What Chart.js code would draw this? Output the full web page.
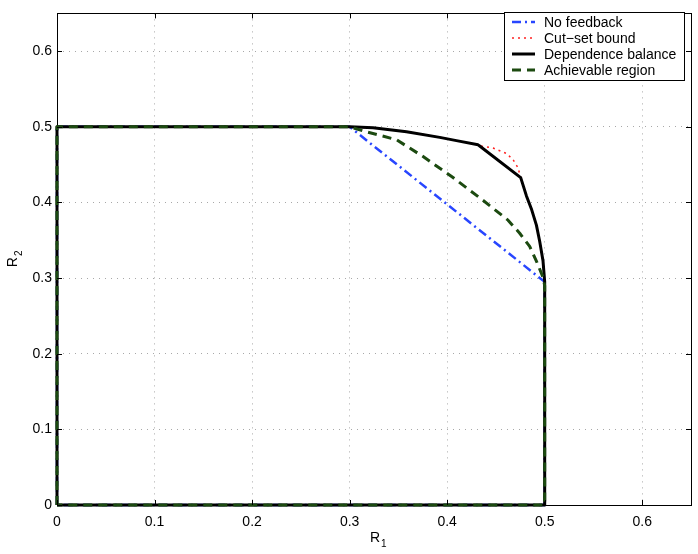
<!DOCTYPE html>
<html><head><meta charset="utf-8">
<script src="https://cdn.jsdelivr.net/npm/chart.js@4.4.1/dist/chart.umd.min.js"></script>
<style>html,body{margin:0;padding:0;background:#fff}#wrap{width:698px;height:554px}</style>
</head><body><div id="wrap"><canvas id="c" width="698" height="554"></canvas></div>
<script>
const tickValues = [0, 0.1, 0.2, 0.3, 0.4, 0.5, 0.6];
const tickLabels = ['0', '0.1', '0.2', '0.3', '0.4', '0.5', '0.6'];

const noFeedbackX = [0, 0, 0.3, 0.5, 0.5, 0];
const noFeedbackY = [0, 0.5, 0.5, 0.295, 0, 0];

const cutSetX = [0, 0, 0.3, 0.324, 0.3583, 0.3924, 0.4095, 0.4317, 0.433, 0.447, 0.4606, 0.4675, 0.4726, 0.4754, 0.4812, 0.4863, 0.4915, 0.4949, 0.4983, 0.5, 0.5, 0];
const cutSetY = [0, 0.5, 0.5, 0.4987, 0.4935, 0.4861, 0.4818, 0.4762, 0.475, 0.472, 0.465, 0.4567, 0.446, 0.4329, 0.409, 0.3918, 0.370, 0.3484, 0.3225, 0.295, 0, 0];

const depBalX = [0, 0, 0.3, 0.324, 0.3583, 0.3924, 0.4095, 0.4317, 0.433, 0.4754, 0.4812, 0.4863, 0.4915, 0.4949, 0.4983, 0.5, 0.5, 0];
const depBalY = [0, 0.5, 0.5, 0.4987, 0.4935, 0.4861, 0.4818, 0.4762, 0.475, 0.4329, 0.409, 0.3918, 0.370, 0.3484, 0.3225, 0.295, 0, 0];

const achX = [0, 0, 0.3, 0.317, 0.348, 0.375, 0.406, 0.437, 0.4624, 0.4744, 0.4846, 0.4915, 0.4983, 0.5, 0.5, 0];
const achY = [0, 0.5, 0.5, 0.4935, 0.483, 0.461, 0.433, 0.4026, 0.3766, 0.3593, 0.342, 0.3225, 0.301, 0.29, 0, 0];

const seriesNames = ['No feedback', 'Cut\u2212set bound', 'Dependence balance', 'Achievable region'];

function pts(xs, ys) { return xs.map((x, i) => ({x: x, y: ys[i]})); }

const FONT = '"Liberation Sans", Arial, Helvetica, sans-serif';

const datasets = [
  {label: seriesNames[0], data: pts(noFeedbackX, noFeedbackY), borderColor: '#2846ff', borderWidth: 2.5, borderDash: [9, 4, 2, 4], order: 4},
  {label: seriesNames[1], data: pts(cutSetX, cutSetY), borderColor: '#ff2020', borderWidth: 1.5, borderDash: [2, 4], order: 3},
  {label: seriesNames[2], data: pts(depBalX, depBalY), borderColor: '#000000', borderWidth: 3, borderDash: [], order: 2},
  {label: seriesNames[3], data: pts(achX, achY), borderColor: '#1c4a10', borderWidth: 3, borderDash: [9, 6], order: 1}
].map(d => Object.assign(d, {showLine: true, pointRadius: 0, fill: false, tension: 0, borderJoinStyle: 'round', clip: 6}));

const framePlugin = {
  id: 'frame',
  beforeDatasetsDraw(chart) {
    const ctx = chart.ctx, a = chart.chartArea;
    ctx.save();
    ctx.strokeStyle = '#000'; ctx.lineWidth = 1; ctx.setLineDash([]);
    ctx.strokeRect(Math.round(a.left) + 0.5, Math.round(a.top) + 0.5, Math.round(a.right - a.left), Math.round(a.bottom - a.top));
    ctx.restore();
  },
  afterDraw(chart) {
    const ctx = chart.ctx, a = chart.chartArea;
    const xs = chart.scales.x, ys = chart.scales.y;
    ctx.save();
    ctx.strokeStyle = '#000'; ctx.lineWidth = 1; ctx.setLineDash([]);
    // inward ticks
    const tl = 5;
    ctx.beginPath();
    tickValues.forEach(v => {
      const px = Math.round(xs.getPixelForValue(v)) + 0.5;
      ctx.moveTo(px, a.bottom); ctx.lineTo(px, a.bottom - tl);
      ctx.moveTo(px, a.top); ctx.lineTo(px, a.top + tl);
      const py = Math.round(ys.getPixelForValue(v)) + 0.5;
      ctx.moveTo(a.left, py); ctx.lineTo(a.left + tl, py);
      ctx.moveTo(a.right, py); ctx.lineTo(a.right - tl, py);
    });
    ctx.stroke();
    // axis titles with subscripts
    ctx.fillStyle = '#000';
    ctx.textBaseline = 'alphabetic';
    ctx.font = '14px ' + FONT;
    const cx = (a.left + a.right) / 2;
    const rW = ctx.measureText('R').width;
    ctx.fillText('R', cx - 4, 542);
    ctx.font = '10px ' + FONT;
    ctx.fillText('1', cx - 4 + rW + 1, 547);
    ctx.save();
    ctx.translate(17, (a.top + a.bottom) / 2 + 8);
    ctx.rotate(-Math.PI / 2);
    ctx.font = '14px ' + FONT;
    ctx.fillText('R', 0, 0);
    ctx.font = '10px ' + FONT;
    ctx.fillText('2', rW + 1, 5);
    ctx.restore();
    // legend
    const lx = 504.5, ly = 12.5, lw = 180, lh = 68;
    ctx.fillStyle = '#fff';
    ctx.fillRect(lx, ly, lw, lh);
    ctx.strokeStyle = '#000'; ctx.lineWidth = 1;
    ctx.strokeRect(lx, ly, lw, lh);
    ctx.font = '14px ' + FONT;
    ctx.textBaseline = 'middle';
    const rowY = [22, 38, 54, 70];
    chart.data.datasets.forEach((d, i) => {
      const y = rowY[i];
      ctx.save();
      ctx.strokeStyle = d.borderColor; ctx.lineWidth = d.borderWidth;
      ctx.setLineDash(d.borderDash || []);
      ctx.beginPath(); ctx.moveTo(512, y); ctx.lineTo(535, y); ctx.stroke();
      ctx.restore();
      ctx.fillStyle = '#000';
      ctx.fillText(d.label, 544, y + 1);
    });
    ctx.restore();
  }
};

const gridCfg = {color: '#a8a8a8', lineWidth: 1, drawTicks: false};
const borderCfg = {display: false, dash: [1, 5]};

new Chart(document.getElementById('c'), {
  type: 'scatter',
  data: {datasets: datasets},
  options: {
    responsive: false, animation: false,
    layout: {padding: {top: 5, right: 7, left: 0, bottom: 0}},
    plugins: {legend: {display: false}, tooltip: {enabled: false}},
    scales: {
      x: {
        type: 'linear', min: 0, max: 0.65,
        grid: gridCfg,
        border: borderCfg,
        afterBuildTicks: s => { s.ticks = tickValues.map(v => ({value: v})); },
        afterFit: s => { s.height = 49; },
        ticks: {padding: 9, color: '#000', font: {size: 14, family: FONT}, maxRotation: 0, callback: (v) => tickLabels[tickValues.findIndex(t => Math.abs(t - v) < 1e-9)]}
      },
      y: {
        type: 'linear', min: 0, max: 0.65,
        grid: gridCfg,
        border: borderCfg,
        afterBuildTicks: s => { s.ticks = tickValues.map(v => ({value: v})); },
        afterFit: s => { s.width = 57; },
        ticks: {padding: 5, color: '#000', font: {size: 14, family: FONT}, callback: (v) => tickLabels[tickValues.findIndex(t => Math.abs(t - v) < 1e-9)]}
      }
    }
  },
  plugins: [framePlugin]
});
</script>
</body></html>
